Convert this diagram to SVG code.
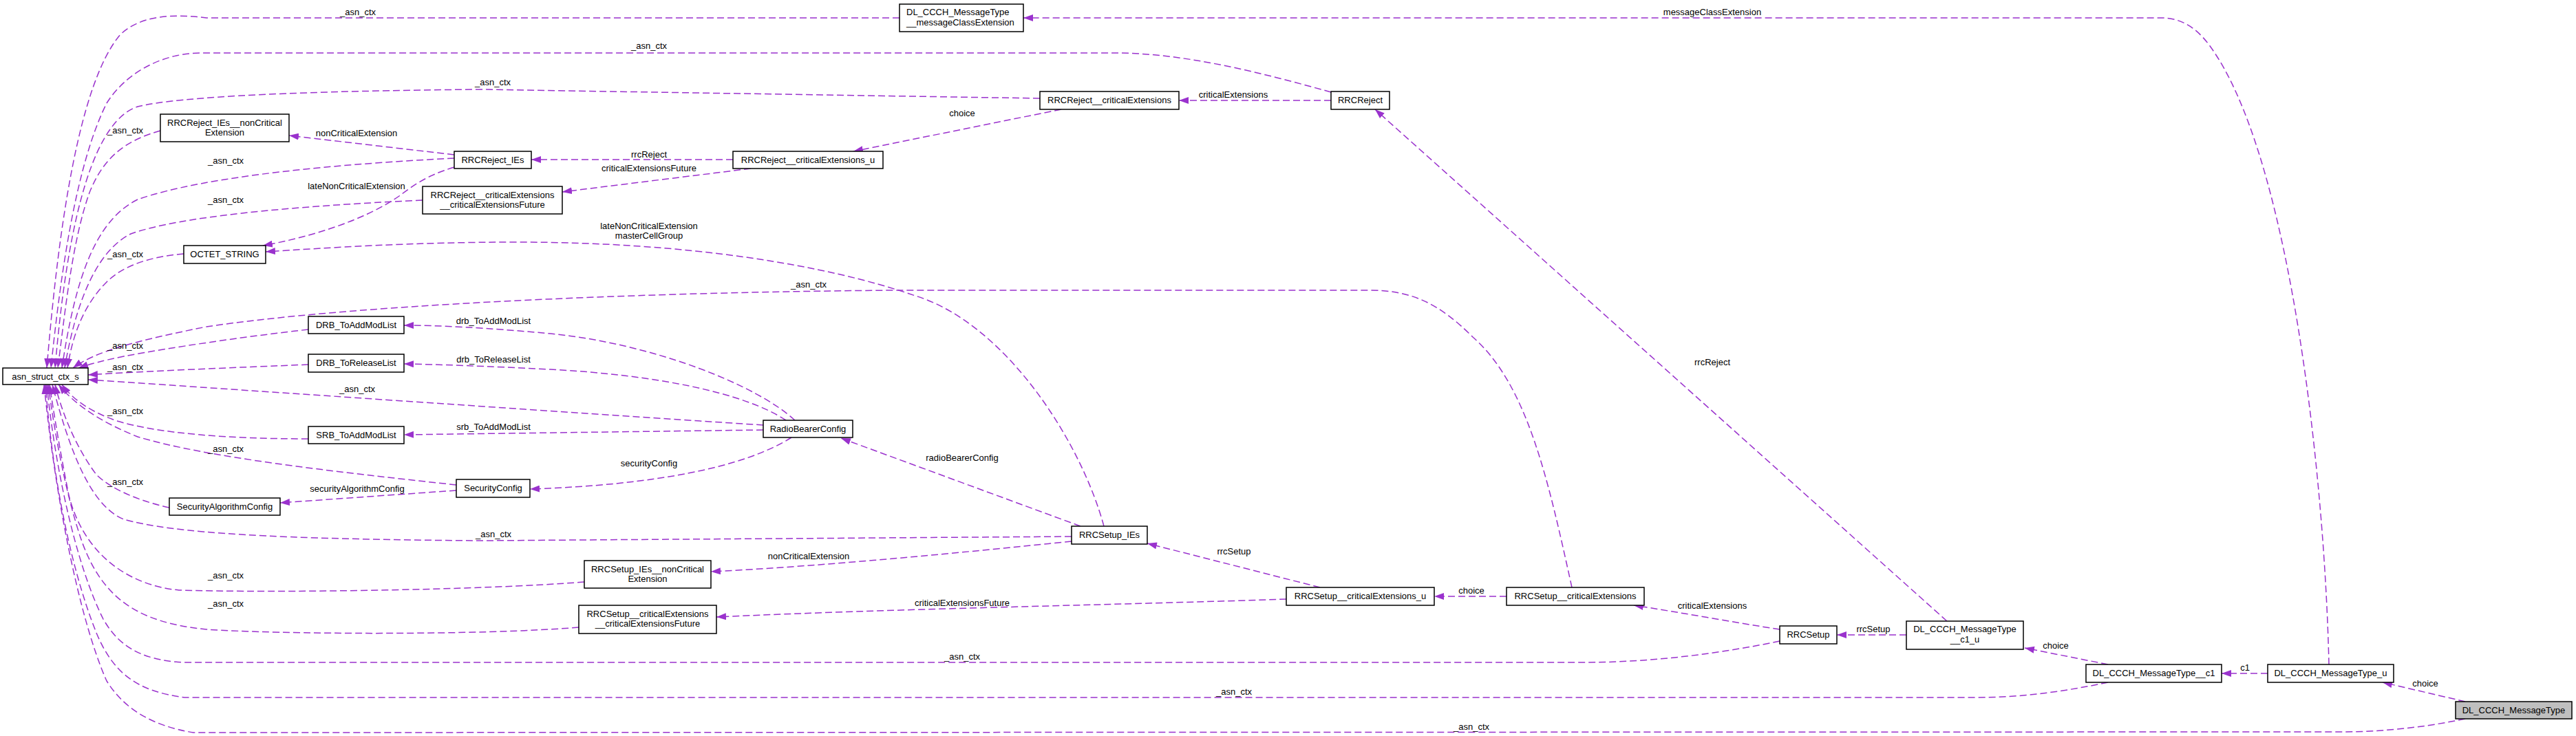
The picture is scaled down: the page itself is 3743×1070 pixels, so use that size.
<svg xmlns="http://www.w3.org/2000/svg" width="3743" height="1070" viewBox="0 0 3743 1070">
<style>
text{font-family:"Liberation Sans",Arial,sans-serif;font-size:13px;fill:#000;text-anchor:middle}
.e{fill:none;stroke:#9a32cd;stroke-width:1.5;stroke-dasharray:10,5;marker-end:url(#ah)}
.n{fill:#fff;stroke:#000;stroke-width:1.5}
.root{fill:#bfbfbf;stroke:#000;stroke-width:1.5}
.l{text-anchor:start}
</style>
<defs>
<marker id="ah" markerUnits="userSpaceOnUse" markerWidth="14" markerHeight="10" refX="14" refY="5" orient="auto"><path d="M0,0 L14,5 L0,10 z" fill="#9a32cd"/></marker>
</defs>
<rect width="3743" height="1070" fill="#fff"/>
<g id="edges">
<path class="e" d="M1307,26 L300,26 C250,20 205,22 175,50 C115,120 85,330 68,535"/>
<text x="520" y="22">_asn_ctx</text>
<path class="e" d="M1934,134 C1830,105 1720,77 1620,77 L290,77 C230,78 180,110 155,150 C110,240 88,400 74,535"/>
<text x="943" y="71">_asn_ctx</text>
<path class="e" d="M1511,143 L700,130 C450,132 260,140 200,155 C140,175 100,300 80,535"/>
<text x="716" y="124">_asn_ctx</text>
<path class="e" d="M233,190 C180,205 150,230 130,280 C105,350 95,450 84,535"/>
<text x="182" y="194">_asn_ctx</text>
<path class="e" d="M660,230 C500,238 300,255 200,290 C140,320 110,400 90,535"/>
<text x="328" y="238">_asn_ctx</text>
<path class="e" d="M614,291 C420,300 260,315 190,340 C140,365 110,440 94,535"/>
<text x="328" y="295">_asn_ctx</text>
<path class="e" d="M267,369 C220,373 180,385 155,410 C120,445 105,490 98,535"/>
<text x="182" y="374">_asn_ctx</text>
<path class="e" d="M2284,854 C2250,700 2220,560 2140,490 C2090,440 2050,422 1990,422 L1300,422 C900,425 500,445 300,475 C200,495 140,510 106,535"/>
<text x="1175" y="418">_asn_ctx</text>
<path class="e" d="M448,479 C350,490 250,505 180,518 C150,524 128,530 114,535"/>
<text x="182" y="507">_asn_ctx</text>
<path class="e" d="M448,530 C350,534 200,540 128,545"/>
<text x="182" y="538">_asn_ctx</text>
<path class="e" d="M1109,618 C800,598 400,570 128,552"/>
<text x="519" y="570">_asn_ctx</text>
<path class="e" d="M448,638 C330,638 230,630 170,612 C130,598 105,580 90,559"/>
<text x="182" y="602">_asn_ctx</text>
<path class="e" d="M663,705 C480,685 300,665 200,635 C150,615 110,590 85,559"/>
<text x="328" y="657">_asn_ctx</text>
<path class="e" d="M246,738 C200,728 160,710 140,690 C110,650 90,600 80,559"/>
<text x="182" y="705">_asn_ctx</text>
<path class="e" d="M1557,780 L700,786 C400,784 250,775 180,755 C130,735 100,650 76,559"/>
<text x="717" y="781">_asn_ctx</text>
<path class="e" d="M849,846 C700,858 400,862 260,858 C180,850 120,800 100,720 C88,660 78,600 72,559"/>
<text x="328" y="841">_asn_ctx</text>
<path class="e" d="M841,912 C700,924 400,922 300,915 C200,905 150,870 120,790 C95,720 78,620 70,559"/>
<text x="328" y="882">_asn_ctx</text>
<path class="e" d="M2586,932 C2500,950 2400,963 2300,963 L268,963 C200,960 170,935 150,900 C110,820 80,680 68,559"/>
<text x="1398" y="959">_asn_ctx</text>
<path class="e" d="M3063,992 C3000,1005 2940,1014 2870,1014 L268,1014 C200,1005 165,980 140,920 C100,820 75,680 66,559"/>
<text x="1793" y="1010">_asn_ctx</text>
<path class="e" d="M3582,1045 C3520,1058 3460,1064 3400,1064 L281,1065 C220,1055 180,1030 155,990 C115,900 80,720 64,559"/>
<text x="2138" y="1061">_asn_ctx</text>
<path class="e" d="M3582,1020 L3462,992"/>
<text x="3524" y="998">choice</text>
<path class="e" d="M3295,979 L3228,979"/>
<text x="3262" y="975">c1</text>
<path class="e" d="M3384,966 C3378,700 3330,250 3220,80 C3195,40 3170,26 3140,26 L1487,26"/>
<text x="2488" y="22">messageClassExtension</text>
<path class="e" d="M3063,966 L2942,942"/>
<text x="2987" y="943">choice</text>
<path class="e" d="M2770,923 L2669,923"/>
<text x="2722" y="919">rrcSetup</text>
<path class="e" d="M2829,903 L1998,159"/>
<text x="2488" y="531">rrcReject</text>
<path class="e" d="M2586,915 C2520,905 2440,890 2374,880"/>
<text x="2488" y="885">criticalExtensions</text>
<path class="e" d="M2189,867 L2084,867"/>
<text x="2138" y="863">choice</text>
<path class="e" d="M1918,854 L1667,790"/>
<text x="1793" y="806">rrcSetup</text>
<path class="e" d="M1869,871 C1600,880 1300,885 1041,897"/>
<text x="1398" y="881">criticalExtensionsFuture</text>
<path class="e" d="M1557,787 C1400,803 1200,823 1033,831"/>
<text x="1175" y="813">nonCriticalExtension</text>
<path class="e" d="M1570,765 L1222,637"/>
<text x="1398" y="670">radioBearerConfig</text>
<path class="e" d="M1604,765 C1570,640 1460,470 1330,430 C1200,385 1000,352 750,352 C600,352 480,360 386,366"/>
<text x="943" y="333">lateNonCriticalExtension</text>
<text x="943" y="347">masterCellGroup</text>
<path class="e" d="M1155,611 C1100,560 950,500 800,485 C700,476 640,473 587,473"/>
<text x="717" y="471">drb_ToAddModList</text>
<path class="e" d="M1142,611 C1080,570 950,545 800,537 C700,532 640,530 587,529"/>
<text x="717" y="527">drb_ToReleaseList</text>
<path class="e" d="M1109,625 L587,632"/>
<text x="717" y="625">srb_ToAddModList</text>
<path class="e" d="M1150,636 C1080,680 950,705 770,711"/>
<text x="943" y="678">securityConfig</text>
<path class="e" d="M663,713 L407,731"/>
<text x="519" y="715">securityAlgorithmConfig</text>
<path class="e" d="M1934,146 L1713,146"/>
<text x="1792" y="142">criticalExtensions</text>
<path class="e" d="M1542,159 L1240,220"/>
<text x="1398" y="169">choice</text>
<path class="e" d="M1065,232 L772,232"/>
<text x="943" y="229">rrcReject</text>
<path class="e" d="M1091,245 L817,279"/>
<text x="943" y="249">criticalExtensionsFuture</text>
<path class="e" d="M660,225 L420,197"/>
<text x="518" y="198">nonCriticalExtension</text>
<path class="e" d="M660,243 C620,255 600,270 580,285 C530,320 450,345 382,357"/>
<text x="518" y="275">lateNonCriticalExtension</text>
</g>
<g id="asn_struct_ctx_s"><rect class="n" x="4" y="535" width="124" height="24"/><text x="66" y="552">asn_struct_ctx_s</text></g>
<g id="DL_CCCH_MessageType__messageClassExtension"><rect class="n" x="1307" y="6" width="180" height="40"/><text class="l" x="1317" y="22">DL_CCCH_MessageType</text><text class="l" x="1317" y="37">__messageClassExtension</text></g>
<g id="RRCReject"><rect class="n" x="1934" y="133" width="85" height="26"/><text x="1976.5" y="150">RRCReject</text></g>
<g id="RRCReject__criticalExtensions"><rect class="n" x="1511" y="133" width="202" height="26"/><text x="1612" y="150">RRCReject__criticalExtensions</text></g>
<g id="RRCReject__criticalExtensions_u"><rect class="n" x="1065" y="220" width="218" height="25"/><text x="1174" y="237">RRCReject__criticalExtensions_u</text></g>
<g id="RRCReject_IEs"><rect class="n" x="660" y="220" width="112" height="25"/><text x="716" y="237">RRCReject_IEs</text></g>
<g id="RRCReject_IEs__nonCriticalExtension"><rect class="n" x="233" y="166" width="187" height="40"/><text x="326.5" y="183">RRCReject_IEs__nonCritical</text><text x="326.5" y="197">Extension</text></g>
<g id="RRCReject__criticalExtensions__criticalExtensionsFuture"><rect class="n" x="614" y="271" width="203" height="40"/><text x="715.5" y="288">RRCReject__criticalExtensions</text><text x="715.5" y="302">__criticalExtensionsFuture</text></g>
<g id="OCTET_STRING"><rect class="n" x="267" y="357" width="119" height="26"/><text x="326.5" y="374">OCTET_STRING</text></g>
<g id="DRB_ToAddModList"><rect class="n" x="448" y="460" width="139" height="25"/><text x="517.5" y="477">DRB_ToAddModList</text></g>
<g id="DRB_ToReleaseList"><rect class="n" x="448" y="515" width="139" height="26"/><text x="517.5" y="532">DRB_ToReleaseList</text></g>
<g id="SRB_ToAddModList"><rect class="n" x="448" y="620" width="139" height="25"/><text x="517.5" y="637">SRB_ToAddModList</text></g>
<g id="RadioBearerConfig"><rect class="n" x="1109" y="611" width="130" height="25"/><text x="1174" y="628">RadioBearerConfig</text></g>
<g id="SecurityConfig"><rect class="n" x="663" y="697" width="107" height="26"/><text x="716.5" y="714">SecurityConfig</text></g>
<g id="SecurityAlgorithmConfig"><rect class="n" x="246" y="724" width="161" height="25"/><text x="326.5" y="741">SecurityAlgorithmConfig</text></g>
<g id="RRCSetup_IEs"><rect class="n" x="1557" y="765" width="110" height="26"/><text x="1612" y="782">RRCSetup_IEs</text></g>
<g id="RRCSetup_IEs__nonCriticalExtension"><rect class="n" x="849" y="815" width="184" height="40"/><text x="941" y="832">RRCSetup_IEs__nonCritical</text><text x="941" y="846">Extension</text></g>
<g id="RRCSetup__criticalExtensions__criticalExtensionsFuture"><rect class="n" x="841" y="880" width="200" height="41"/><text x="941" y="897">RRCSetup__criticalExtensions</text><text x="941" y="911">__criticalExtensionsFuture</text></g>
<g id="RRCSetup__criticalExtensions_u"><rect class="n" x="1869" y="854" width="215" height="26"/><text x="1976.5" y="871">RRCSetup__criticalExtensions_u</text></g>
<g id="RRCSetup__criticalExtensions"><rect class="n" x="2189" y="854" width="200" height="26"/><text x="2289" y="871">RRCSetup__criticalExtensions</text></g>
<g id="RRCSetup"><rect class="n" x="2586" y="910" width="83" height="26"/><text x="2627.5" y="927">RRCSetup</text></g>
<g id="DL_CCCH_MessageType__c1_u"><rect class="n" x="2770" y="903" width="170" height="41"/><text x="2855" y="919">DL_CCCH_MessageType</text><text x="2855" y="934">__c1_u</text></g>
<g id="DL_CCCH_MessageType__c1"><rect class="n" x="3031" y="966" width="197" height="26"/><text x="3129.5" y="983">DL_CCCH_MessageType__c1</text></g>
<g id="DL_CCCH_MessageType_u"><rect class="n" x="3295" y="966" width="183" height="26"/><text x="3386.5" y="983">DL_CCCH_MessageType_u</text></g>
<g id="DL_CCCH_MessageType"><rect class="root" x="3568" y="1020" width="169" height="25"/><text x="3652.5" y="1037">DL_CCCH_MessageType</text></g>
</svg>
